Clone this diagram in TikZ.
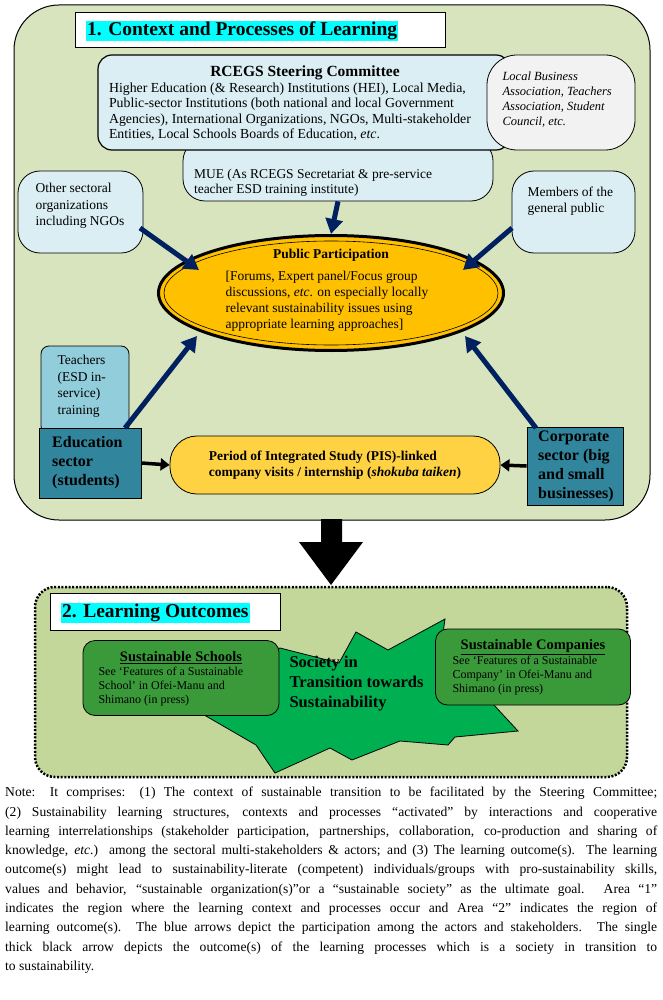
\documentclass[tikz,border=0pt]{standalone}
\usepackage{fontspec}
\setmainfont{Liberation Serif}
\usetikzlibrary{shapes.geometric,arrows.meta}
\definecolor{boxg}{HTML}{D7E4BD}
\definecolor{boxg2}{HTML}{C4D79B}
\definecolor{lblue}{HTML}{DAEEF3}
\definecolor{tblue}{HTML}{92CDDC}
\definecolor{teal}{HTML}{31859C}
\definecolor{navy}{HTML}{002060}
\definecolor{gold}{HTML}{FFC000}
\definecolor{ylw}{HTML}{FFD243}
\definecolor{grn}{HTML}{00B050}
\definecolor{dgrn}{HTML}{3A9A3A}
\definecolor{cyanh}{HTML}{00FFFF}
\tikzset{
 bluearr/.style={navy,line width=5pt,-{Triangle[length=15pt,width=17pt]}},
 blackarr/.style={black,line width=3.5pt,-{Triangle[length=9pt,width=12pt]}},
 lb/.style={draw,line width=0.8pt,fill=lblue,rounded corners=22pt,inner sep=0pt},
 sq/.style={draw,line width=0.8pt,fill=teal,inner sep=0pt},
 sqt/.style={align=left,inner sep=0pt,font=\bfseries\fontsize{16}{19}\selectfont},
 gbox/.style={draw,line width=0.8pt,fill=dgrn,rounded corners=12pt,inner sep=0pt},
}
\begin{document}
\begin{tikzpicture}[x=1pt,y=-1pt]
\useasboundingbox (0,0) rectangle (662,1000);
% region 1
\node[draw,line width=1pt,fill=boxg,rounded corners=45pt,minimum width=636pt,minimum height=515pt] (box1) at (332,262.5) {};
\node[draw,line width=1pt,fill=white,minimum width=370pt,minimum height=35pt] (t1) at (260,30.5) {};
\node[fill=cyanh,inner sep=1pt,anchor=west,font=\bfseries\fontsize{19.5}{21}\selectfont] (t1t) at (86,31) {1. Context and Processes of Learning};
% MUE
\node[lb,minimum width=310pt,minimum height=62pt] (mue) at (338,170) {};
\node[align=justify,text width=288pt,font=\fontsize{13.5}{15}\selectfont] (muet) at (338,183) {MUE (As RCEGS Secretariat \& pre-service\\teacher ESD training institute)};
% RCEGS
\node[lb,line width=1.2pt,minimum width=412pt,minimum height=95pt,rounded corners=14pt] (rc) at (304,102.5) {};
\node[font=\bfseries\fontsize{15.5}{16}\selectfont] (rch) at (305,73) {RCEGS Steering Committee};
\node[align=left,font=\fontsize{13.8}{15.5}\selectfont] (rct) at (290,112) {Higher Education (\& Research) Institutions (HEI), Local Media,\\Public-sector Institutions (both national and local Government\\Agencies), International Organizations, NGOs, Multi-stakeholder\\Entities, Local Schools Boards of Education, \emph{etc}.};
\node[draw,line width=0.8pt,fill=black!5,rounded corners=30pt,minimum width=148pt,minimum height=95pt,inner sep=0pt] (gray) at (561,102.5) {};
\node[align=left,font=\itshape\fontsize{12.5}{15}\selectfont,anchor=north west] (grayt) at (499,68) {Local Business\\Association, Teachers\\Association, Student\\Council, etc.};
% side boxes
\node[lb,minimum width=125pt,minimum height=82pt] (oth) at (80.5,212) {};
\node[align=left,font=\fontsize{13.5}{16.5}\selectfont,anchor=north west] (otht) at (32,180) {Other sectoral\\organizations\\including NGOs};
\node[lb,minimum width=123pt,minimum height=82pt] (mem) at (573.5,212) {};
\node[align=left,font=\fontsize{13.5}{16.5}\selectfont,anchor=north west] (memt) at (524,183) {Members of the\\general public};
% ellipse
\node[ellipse,draw,line width=3pt,fill=gold,minimum width=345pt,minimum height=115pt,inner sep=0pt] (pp) at (331,293) {};
\draw[line width=0.6pt] (pp.center) ellipse (167pt and 52pt);
\node[font=\bfseries\fontsize{13.5}{15}\selectfont] (pph) at (331,255) {Public Participation};
\node[align=left,font=\fontsize{13.5}{16}\selectfont] (ppt) at (327,301) {{}[Forums, Expert panel/Focus group\\discussions, \emph{etc}. on especially locally\\relevant sustainability issues using\\appropriate learning approaches]};
% bottom row
\node[draw,line width=0.8pt,fill=tblue,rounded corners=8pt,minimum width=88pt,minimum height=88pt,inner sep=0pt] (tea) at (85,390) {};
\node[align=left,font=\fontsize{13.5}{16.5}\selectfont,anchor=north west] (teat) at (54,352) {Teachers\\(ESD in-\\service)\\training};
\node[sq,minimum width=102pt,minimum height=70pt] (edu) at (90,463) {};
\node[sqt,anchor=west] (edut) at (52,463) {Education\\sector\\(students)};
\node[sq,minimum width=96pt,minimum height=78pt] (corp) at (575,466) {};
\node[sqt,anchor=west] (corpt) at (538,466) {Corporate\\sector (big\\and small\\businesses)};
\node[draw,line width=0.8pt,fill=ylw,rounded corners=27pt,minimum width=330pt,minimum height=58pt,align=left,font=\bfseries\fontsize{13.5}{16.5}\selectfont] (pis) at (335,465) {Period of Integrated Study (PIS)-linked\\company visits / internship (\emph{shokuba taiken})};
% arrows
\coordinate (o1) at (140,228); \coordinate (o2) at (199,270);
\coordinate (m1) at (512,228); \coordinate (m2) at (463,270);
\coordinate (e1) at (125,428); \coordinate (e2) at (197,336);
\coordinate (c1) at (536,428); \coordinate (c2) at (465,336);
\draw[bluearr] (mue.south) -- (pp.north);
\draw[bluearr] (o1) -- (o2);
\draw[bluearr] (m1) -- (m2);
\draw[bluearr] (e1) -- (e2);
\draw[bluearr] (c1) -- (c2);
\draw[blackarr] (edu.east) -- (pis.west);
\draw[blackarr] (corp.west) -- (pis.east);
% big arrow
\fill[black] (321,519) -- (342,519) -- (342,542) -- (363,542) -- (331,585) -- (299,542) -- (321,542) -- cycle;
% region 2
\node[draw,line width=2.5pt,dash pattern=on 2pt off 1.6pt,fill=boxg2,rounded corners=20pt,minimum width=592pt,minimum height=190pt] (box2) at (331,682) {};
\node[draw,line width=1pt,fill=white,minimum width=230pt,minimum height=37pt] (t2) at (165,611.5) {};
\node[fill=cyanh,inner sep=1pt,anchor=west,font=\bfseries\fontsize{19.5}{21}\selectfont] (t2t) at (61,613) {2. Learning Outcomes};
\filldraw[fill=grn,line width=0.8pt] (445,619) -- (440,655) -- (480,690) -- (518,731) -- (455,737) -- (448,745) -- (400,741) -- (352,760) -- (330,748) -- (275,773) -- (256,745) -- (199,712) -- (240,700) -- (230,675) -- (280,648) -- (339,663) -- (356,632) -- (388,650) -- cycle;
\node[align=left,font=\bfseries\fontsize{16.5}{20}\selectfont,anchor=west] (soc) at (286,684) {Society in\\Transition towards\\Sustainability};
\node[gbox,minimum width=196pt,minimum height=75pt] (ss) at (181,678) {};
\node[font=\bfseries\fontsize{14.5}{15}\selectfont] (ssh) at (181,658) {\underline{Sustainable Schools}};
\node[align=left,font=\fontsize{12}{14}\selectfont,anchor=north west] (sst) at (95,664) {See ‘Features of a Sustainable\\School’ in Ofei-Manu and\\Shimano (in press)};
\node[gbox,minimum width=195pt,minimum height=76pt] (sc) at (533,667) {};
\node[font=\bfseries\fontsize{14.5}{15}\selectfont] (sch) at (533,647) {\underline{Sustainable Companies}};
\node[align=left,font=\fontsize{12}{14}\selectfont,anchor=north west] (sct) at (449,653) {See ‘Features of a Sustainable\\Company’ in Ofei-Manu and\\Shimano (in press)};
% note
\node[anchor=north west,inner sep=0pt,text width=652pt,align=justify,font=\fontsize{13.6}{19.3}\selectfont] (note) at (5,787) {Note: It comprises: (1) The context of sustainable transition to be facilitated by the Steering Committee;\linebreak
(2) Sustainability learning structures, contexts and processes “activated” by interactions and cooperative\linebreak
learning interrelationships (stakeholder participation, partnerships, collaboration, co-production and sharing of\linebreak
knowledge, \emph{etc}.) among the sectoral multi-stakeholders \& actors; and (3) The learning outcome(s). The learning\linebreak
outcome(s) might lead to sustainability-literate (competent) individuals/groups with pro-sustainability skills,\linebreak
values and behavior, “sustainable organization(s)”or a “sustainable society” as the ultimate goal. Area “1”\linebreak
indicates the region where the learning context and processes occur and Area “2” indicates the region of\linebreak
learning outcome(s). The blue arrows depict the participation among the actors and stakeholders. The single\linebreak
thick black arrow depicts the outcome(s) of the learning processes which is a society in transition to\linebreak
to sustainability.};
\end{tikzpicture}
\end{document}
